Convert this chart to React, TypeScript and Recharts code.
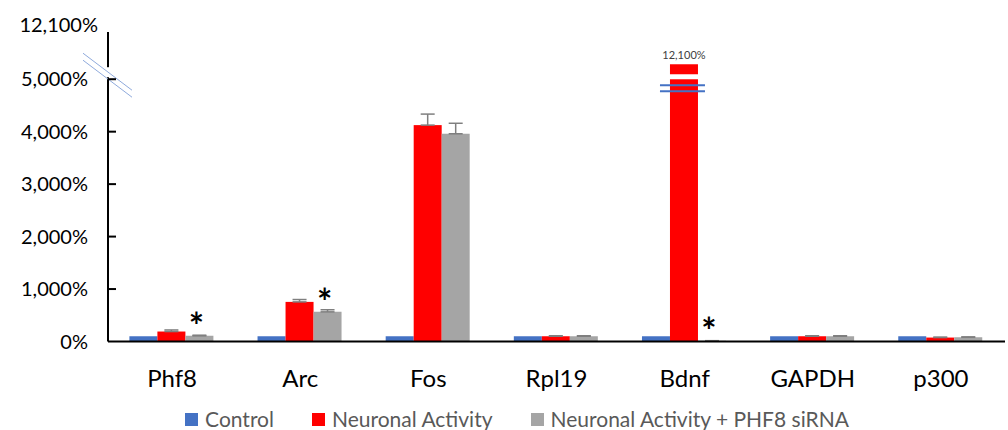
import React from 'react';
import { BarChart, Bar, XAxis, YAxis, Legend, ErrorBar, LabelList } from 'recharts';

const categories = ['Phf8', 'Arc', 'Fos', 'Rpl19', 'Bdnf', 'GAPDH', 'p300'];
const control = [100, 100, 100, 100, 100, 100, 100];
const neuronalActivity = [190, 755, 4125, 100, 12100, 100, 75];
const neuronalActivitySiRNA = [108, 565, 3960, 100, 15, 100, 80];
const neuronalActivityErr = [30, 45, 210, 10, 0, 10, 8];
const siRNAErr = [12, 40, 200, 10, 0, 10, 8];
const significant = [true, true, false, false, true, false, false];

const yTicks = [0, 1000, 2000, 3000, 4000, 5000, 5900];
const yTickLabels = ['0%', '1,000%', '2,000%', '3,000%', '4,000%', '5,000%', '12,100%'];

const AXIS_BREAK = 5000;
const Y_MAX = 5900;
const BROKEN_BAR_DISPLAY = 5285;

const seriesNames = ['Control', 'Neuronal Activity', 'Neuronal Activity + PHF8 siRNA'];
const seriesColors = ['#4472C4', '#FF0000', '#A5A5A5'];

const FONT = "Lato, 'Open Sans', sans-serif";

const fmtPct = (v: number) => v.toLocaleString('en-US') + '%';

const data = categories.map((name, i) => {
  const broken = neuronalActivity[i] > AXIS_BREAK;
  return {
    name,
    control: control[i],
    na: broken ? BROKEN_BAR_DISPLAY : neuronalActivity[i],
    si: neuronalActivitySiRNA[i],
    naErr: broken ? null : [0, neuronalActivityErr[i]],
    siErr: [0, siRNAErr[i]],
    broken,
    brokenLabel: broken ? fmtPct(neuronalActivity[i]) : '',
    sig: significant[i] ? '*' : '',
  };
});

const YTick = (props: any) => {
  const { x, y, payload } = props;
  const v = payload.value;
  const idx = yTicks.indexOf(v);
  const label = yTickLabels[idx] ?? fmtPct(v);
  const isTop = v === Y_MAX;
  return (
    <g>
      {v === AXIS_BREAK && (
        <g>
          <rect x={x - 3} y={y - 12} width={6} height={10} fill="#fff" />
          <line x1={x - 25} y1={y - 26} x2={x + 24} y2={y + 11} stroke="#8FAADC" strokeWidth={1} />
          <line x1={x - 25} y1={y - 19} x2={x + 24} y2={y + 18} stroke="#8FAADC" strokeWidth={1} />
        </g>
      )}
      {!isTop && v > 0 && <line x1={x} y1={y} x2={x + 8} y2={y} stroke="#000" strokeWidth={2} />}
      <text
        x={isTop ? x - 10 : x - 20}
        y={isTop ? y - 7 : y}
        dy="0.35em"
        textAnchor="end"
        fill="#000"
        fontSize={20}
        fontFamily={FONT}
      >
        {label}
      </text>
    </g>
  );
};

const RedShape = (props: any) => {
  const { x, y, width, height, fill, payload } = props;
  if (!payload || !payload.broken) {
    return <rect x={x} y={y} width={width} height={height} fill={fill} />;
  }
  return (
    <g>
      <rect x={x} y={y} width={width} height={height} fill={fill} />
      <rect x={x - 1} y={y + 10} width={width + 2} height={5} fill="#fff" />
      <line x1={x - 10} x2={x + width + 7} y1={y + 21} y2={y + 21} stroke="#4472C4" strokeWidth={2} />
      <line x1={x - 10} x2={x + width + 7} y1={y + 27} y2={y + 27} stroke="#4472C4" strokeWidth={2} />
    </g>
  );
};

const BrokenLabel = (props: any) => {
  const vb = props.viewBox || props;
  const { value } = props;
  if (!value) return null;
  return (
    <text x={vb.x + vb.width / 2} y={vb.y - 9} dy="0.35em" textAnchor="middle" fontSize={11} fill="#404040" fontFamily={FONT}>
      {value}
    </text>
  );
};

const Asterisk = (props: any) => {
  const vb = props.viewBox || props;
  const { value } = props;
  if (!value) return null;
  return (
    <text x={vb.x + vb.width / 2 - 3} y={vb.y + 3} textAnchor="middle" fontSize={36} fontWeight={700} fill="#000" fontFamily={FONT}>
      {value}
    </text>
  );
};

const LegendContent = () => (
  <div
    style={{
      display: 'flex',
      justifyContent: 'center',
      alignItems: 'center',
      marginLeft: 26,
      fontFamily: FONT,
      fontSize: 21,
      color: '#595959',
      lineHeight: '20px',
    }}
  >
    {seriesNames.map((n, i) => (
      <div key={n} style={{ display: 'flex', alignItems: 'center', marginLeft: i === 0 ? 0 : 38 }}>
        <span style={{ display: 'inline-block', width: 13, height: 13, background: seriesColors[i], marginRight: 7 }} />
        <span>{n}</span>
      </div>
    ))}
  </div>
);

export default function App() {
  return (
    <div style={{ position: 'absolute', left: 0, top: 0, width: 1008, height: 430, background: '#fff' }}>
      <BarChart
        width={1008}
        height={430}
        data={data}
        margin={{ top: 32, right: 3, bottom: 58.5, left: 0 }}
        barCategoryGap="16.7%"
        barGap={0}
      >
        <XAxis
          dataKey="name"
          axisLine={{ stroke: '#000', strokeWidth: 2 }}
          tickLine={false}
          tickSize={0}
          tickMargin={28}
          height={30}
          interval={0}
          tick={{ fill: '#000', fontSize: 24, fontFamily: FONT }}
        />
        <YAxis
          type="number"
          domain={[0, Y_MAX]}
          ticks={yTicks}
          width={108}
          interval={0}
          allowDataOverflow
          axisLine={{ stroke: '#000', strokeWidth: 2 }}
          tickLine={false}
          tickSize={0}
          tickMargin={0}
          tick={(p: any) => <YTick {...p} />}
        />
        <Bar dataKey="control" name={seriesNames[0]} fill={seriesColors[0]} isAnimationActive={false} />
        <Bar dataKey="na" name={seriesNames[1]} fill={seriesColors[1]} isAnimationActive={false} shape={(p: any) => <RedShape {...p} />}>
          <ErrorBar dataKey="naErr" width={7} stroke="#7F7F7F" strokeWidth={1.5} direction="y" />
          <LabelList dataKey="brokenLabel" content={(p: any) => <BrokenLabel {...p} />} />
        </Bar>
        <Bar dataKey="si" name={seriesNames[2]} fill={seriesColors[2]} isAnimationActive={false}>
          <ErrorBar dataKey="siErr" width={7} stroke="#7F7F7F" strokeWidth={1.5} direction="y" />
          <LabelList dataKey="sig" content={(p: any) => <Asterisk {...p} />} />
        </Bar>
        <Legend
          layout="horizontal"
          verticalAlign="middle"
          align="center"
          wrapperStyle={{ left: 0, top: 409, width: 1008 }}
          content={() => <LegendContent />}
        />
      </BarChart>
    </div>
  );
}
